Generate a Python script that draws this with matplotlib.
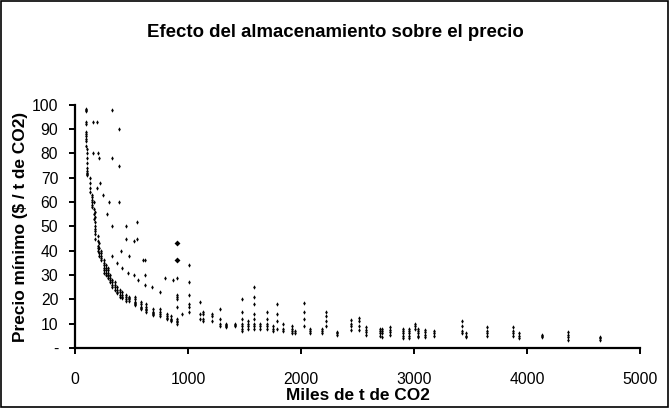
import matplotlib
matplotlib.use("Agg")
import matplotlib.pyplot as plt
from matplotlib.patches import Rectangle

plt.rcParams["font.family"] = ["Liberation Sans", "DejaVu Sans"]

# columns of points: x position (miles de t) and the prices read in that column
col_x = [100, 110, 130, 150, 165, 180, 200, 215, 230, 260, 275, 290, 310, 330,
         350, 370, 400, 420, 450, 480, 530,
         580, 630, 690, 750, 810, 850, 900,
         1130, 1210, 1280, 1340, 1420, 1480, 1530, 1580, 1640, 1700, 1750, 1790,
         1840, 1920, 1950, 2030, 2080, 2190, 2220, 2320, 2440, 2510, 2580, 2700,
         2720, 2790, 2900, 2960, 3010, 3040, 3100, 3180, 3430, 3460, 3650, 3880,
         3930, 4130, 4360, 4650]
col_y = [
    [98.5, 98, 97.5, 93, 92, 89, 88, 87, 86, 85, 83],
    [82, 80, 78, 76, 74, 73, 72, 71.5, 71],
    [70, 68, 66, 64],
    [63, 62, 61, 60, 59, 58],
    [60, 57, 55, 53],
    [56, 54, 52, 50, 49, 48, 47, 45],
    [46, 44, 42, 41, 40],
    [43, 41, 39, 38],
    [40, 39, 38, 37, 36],
    [36, 35, 34, 33, 32, 31],
    [34, 33, 32, 31, 30],
    [33, 32, 31, 30, 29.5, 29],
    [30, 29, 28, 27],
    [28, 27, 26, 25],
    [27, 26, 25, 24],
    [25, 24, 23, 22.5],
    [24, 23, 22, 21],
    [23, 22, 21, 20.5],
    [22, 21, 20, 19.5],
    [21, 20.5, 20, 19.5],
    [21, 20, 19, 18.5, 18, 17.5],
    [19, 18, 17, 16.5, 16],
    [18, 17, 16, 15.5, 15],
    [16, 15, 14.5, 14, 13.5],
    [16, 15, 14, 13],
    [14, 13, 12.5, 12],
    [13, 12, 11.5, 11],
    [12, 11, 10.5, 10],
    [15, 14, 12, 11],
    [14, 13, 11],
    [16, 12, 10, 9],
    [10, 9.5, 9, 8.5],
    [10, 9.5, 9],
    [20, 15, 12, 10, 9, 8, 7],
    [11, 10, 9, 8],
    [25, 21, 18, 14, 12, 10, 9, 8],
    [10, 9, 8],
    [15, 12, 10, 9, 8],
    [9, 8, 7],
    [18, 14, 11, 8],
    [10, 8, 7],
    [9, 8, 7, 6],
    [7, 6],
    [18.5, 15, 12, 9],
    [8, 7, 6],
    [8, 7, 6],
    [15, 13, 11, 9],
    [6.5, 6, 5.5],
    [11.5, 10, 9, 7.5],
    [12.5, 11, 9, 7.5],
    [8.5, 7.5, 6.5, 5.5],
    [8, 7, 6, 5],
    [8, 7, 6, 4.5],
    [8.5, 7.5, 6.5, 5.5],
    [8, 7, 6, 5, 4],
    [8, 7, 6, 5, 4],
    [10, 9, 8],
    [8, 7, 6, 5, 4.5],
    [7.5, 6.5, 5.5, 4.5],
    [7, 6, 5],
    [11, 9, 7, 6],
    [6, 5, 4.5],
    [8.5, 7, 6, 5],
    [8.5, 7, 6, 5],
    [6, 5, 4],
    [5.5, 5, 4.5],
    [6.5, 5.5, 4.5, 3.5],
    [4.5, 4, 3.5],
]

# loose points above the main curve
extra_x = [160, 190, 330, 390, 330, 390, 160, 200, 210, 220, 190, 250, 300, 390,
           280, 330, 450, 550, 450, 520, 550, 410, 480, 600, 620, 330, 370, 420,
           470, 520, 560, 620, 620, 680, 750, 800, 870, 900, 900, 900, 900, 900,
           900, 900, 1010, 1010, 1010, 1010, 1010, 1010, 950, 1110, 1110, 1110]
extra_y = [93, 93, 98, 90, 78, 75, 80, 80, 78, 68, 66, 63, 60, 60,
           55, 50, 50, 52, 45, 44, 45, 40, 38, 36, 36, 38, 35, 33,
           31, 30, 28, 30, 26, 25, 23, 29, 28, 43, 36, 29, 22, 21,
           20, 17, 34, 27, 22, 18, 17, 15, 14, 19, 14, 12]

xs = [x for x, ys in zip(col_x, col_y) for _ in ys] + extra_x
ys = [y for ys_ in col_y for y in ys_] + extra_y

fig = plt.figure(figsize=(6.7, 4.08), dpi=100)
fig.patches.append(Rectangle((0.002, 0.003), 0.995, 0.994, transform=fig.transFigure,
                             fill=False, edgecolor="black", linewidth=1.2))
ax = fig.add_axes([0.112, 0.147, 0.843, 0.596])
ax.scatter(xs, ys, marker="d", s=5, color="black", linewidths=0)
ax.scatter(extra_x[37:39], extra_y[37:39], marker="D", s=9, color="black", linewidths=0)

ax.set_xlim(0, 5000)
ax.set_ylim(0, 100)
ax.set_xticks(range(0, 5001, 1000))
ax.set_yticks(range(0, 101, 10))
ax.set_yticklabels(["-"] + [str(v) for v in range(10, 101, 10)])
for s in ["top", "right"]:
    ax.spines[s].set_visible(False)
for s in ["left", "bottom"]:
    ax.spines[s].set_linewidth(1.6)
ax.tick_params(direction="out", length=4, width=1.4, labelsize=11.3)
ax.tick_params(axis="x", pad=13.5)
ax.tick_params(axis="y", pad=8)

ax.set_xlabel("Miles de t de CO2", fontsize=12.4, fontweight="bold")
ax.set_ylabel("Precio mínimo ($ / t de CO2)", fontsize=12.4, fontweight="bold")
ax.xaxis.set_label_coords(0.5, -0.165)
ax.yaxis.set_label_coords(-0.083, 0.5)
fig.text(0.5, 0.92, "Efecto del almacenamiento sobre el precio", ha="center",
         va="center", fontsize=13.4, fontweight="bold")

fig.savefig("out.png", dpi=100)
